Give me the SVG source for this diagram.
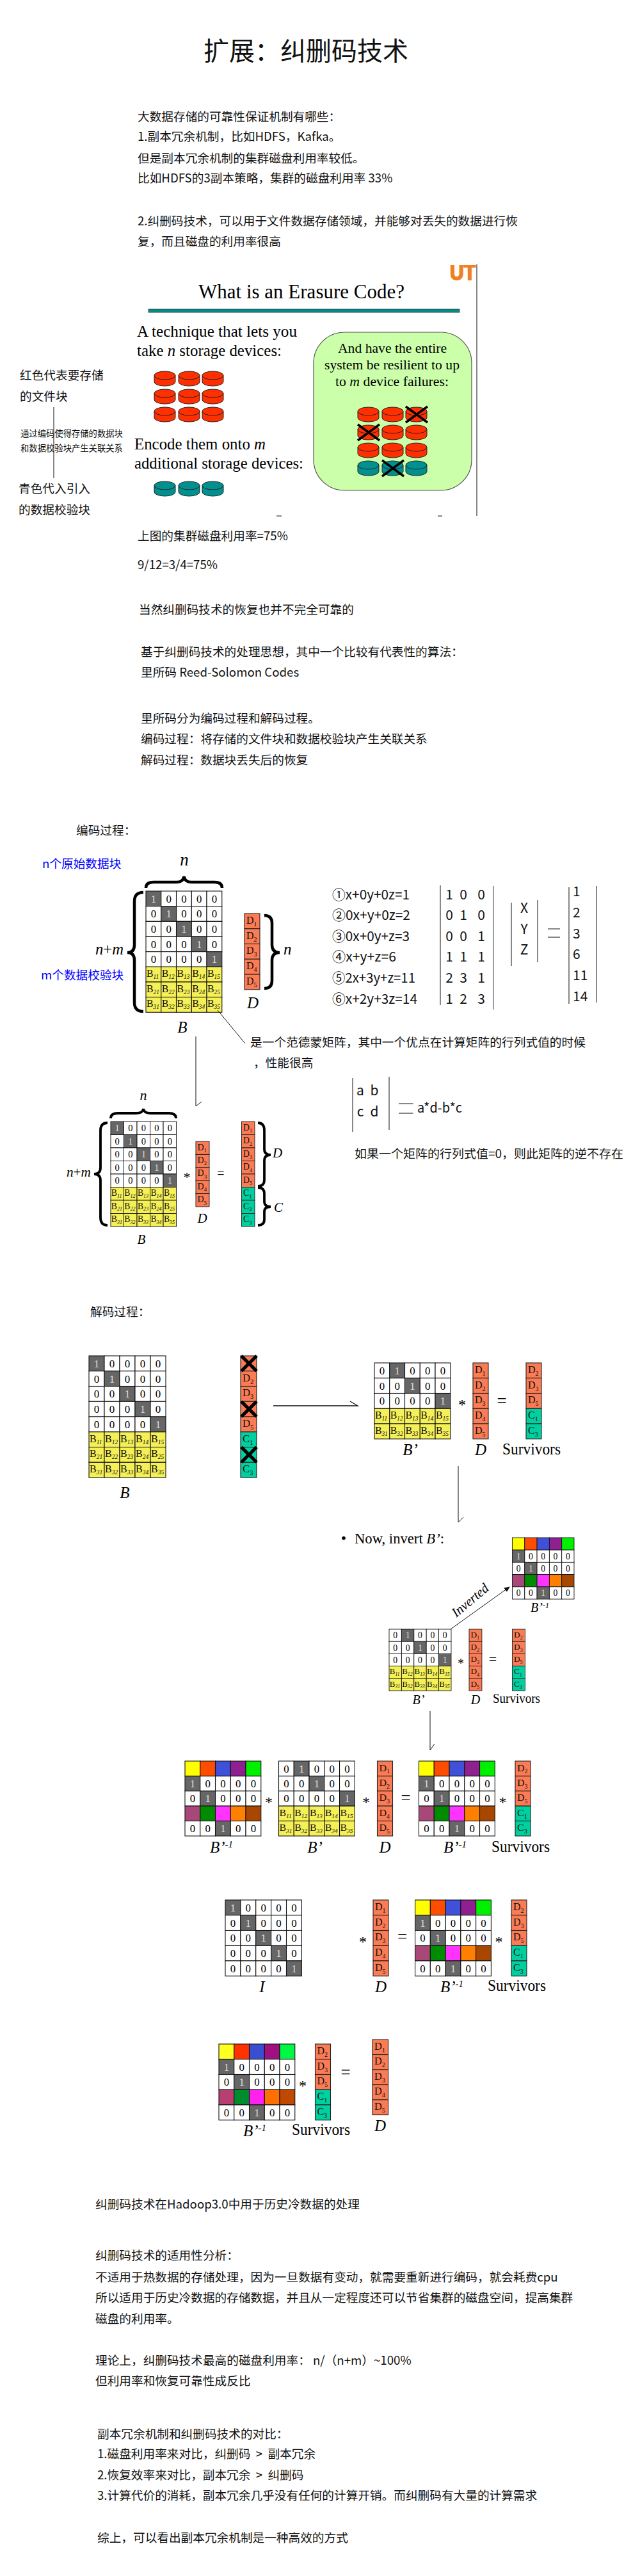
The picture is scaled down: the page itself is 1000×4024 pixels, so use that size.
<svg xmlns="http://www.w3.org/2000/svg" width="1000" height="4024" viewBox="0 0 1000 4024">
<style>
.t{font-family:"Noto Sans CJK SC","Liberation Sans",sans-serif;font-size:18.67px;fill:#111}
.a{fill:#00f}
.m{text-anchor:middle}
.s{font-family:"Liberation Serif",serif;fill:#000}
.i{font-style:italic}
.d{font-family:"Liberation Serif",serif;font-size:17px;text-anchor:middle;fill:#000}
.l{fill:#ddd}
.w{fill:#fff;stroke:#111;stroke-width:1.1}
.k{fill:#666;stroke:#111;stroke-width:1.1}
.y{fill:#f5f058;stroke:#111;stroke-width:1.1}
.o{fill:#fb7b55;stroke:#222;stroke-width:1.1}
.g{fill:#00cfa0;stroke:#222;stroke-width:1.1}
.bt{font-family:"Liberation Serif",serif;font-size:16px;fill:#111}
.sb{font-size:9.5px;font-style:italic}
.sn{font-size:10px}
.br{fill:none;stroke:#000;stroke-width:4.5}
.bs{fill:none;stroke:#000;stroke-width:3.8}
.ln{stroke:#111;stroke-width:1;fill:none}
.xx{stroke:#000;fill:none}
.r{stroke:#111;stroke-width:1}
</style>
<defs>
<marker id="ah" markerWidth="9" markerHeight="8" refX="8" refY="4" orient="auto" markerUnits="userSpaceOnUse"><path d="M0,0 L9,4 L0,8 Z" fill="#111"/></marker>
<clipPath id="lc"><rect x="702" y="414" width="43" height="24"/></clipPath>
<g id="cr"><path d="M0,6.5 V16.5 A16.5,6.5 0 0 0 33,16.5 V6.5 Z" fill="#ff2f00" stroke="#222"/><ellipse cx="16.5" cy="6.5" rx="16.5" ry="6.5" fill="#ff2f00" stroke="#222"/></g>
<g id="ct"><path d="M0,6.5 V16.5 A16.5,6.5 0 0 0 33,16.5 V6.5 Z" fill="#009090" stroke="#222"/><ellipse cx="16.5" cy="6.5" rx="16.5" ry="6.5" fill="#009090" stroke="#222"/></g>
<path id="xc" class="xx" stroke-width="3.5" d="M0,0 L34,25 M34,0 L0,25"/>
<path id="xd" class="xx" stroke-width="5" d="M1,0 L24,24 M24,0 L1,24"/>
<g id="c0"><rect class="w" width="24" height="24"/><text class="d" x="12" y="18">0</text></g>
<g id="c1"><rect class="k" width="24" height="24"/><text class="d l" x="12" y="18">1</text></g>
<g id="r1"><use href="#c1"/><use href="#c0" x="24"/><use href="#c0" x="48"/><use href="#c0" x="72"/><use href="#c0" x="96"/></g>
<g id="r2"><use href="#c0"/><use href="#c1" x="24"/><use href="#c0" x="48"/><use href="#c0" x="72"/><use href="#c0" x="96"/></g>
<g id="r3"><use href="#c0"/><use href="#c0" x="24"/><use href="#c1" x="48"/><use href="#c0" x="72"/><use href="#c0" x="96"/></g>
<g id="r4"><use href="#c0"/><use href="#c0" x="24"/><use href="#c0" x="48"/><use href="#c1" x="72"/><use href="#c0" x="96"/></g>
<g id="r5"><use href="#c0"/><use href="#c0" x="24"/><use href="#c0" x="48"/><use href="#c0" x="72"/><use href="#c1" x="96"/></g>
<rect id="by" class="y" width="24" height="24"/>
<g id="b1"><use href="#by"/><use href="#by" x="24"/><use href="#by" x="48"/><use href="#by" x="72"/><use href="#by" x="96"/>
<text class="bt" x="1" y="16">B<tspan class="sb" dy="3">11</tspan></text><text class="bt" x="25" y="16">B<tspan class="sb" dy="3">12</tspan></text><text class="bt" x="49" y="16">B<tspan class="sb" dy="3">13</tspan></text><text class="bt" x="73" y="16">B<tspan class="sb" dy="3">14</tspan></text><text class="bt" x="97" y="16">B<tspan class="sb" dy="3">15</tspan></text></g>
<g id="b2"><use href="#by"/><use href="#by" x="24"/><use href="#by" x="48"/><use href="#by" x="72"/><use href="#by" x="96"/>
<text class="bt" x="1" y="16">B<tspan class="sb" dy="3">21</tspan></text><text class="bt" x="25" y="16">B<tspan class="sb" dy="3">22</tspan></text><text class="bt" x="49" y="16">B<tspan class="sb" dy="3">23</tspan></text><text class="bt" x="73" y="16">B<tspan class="sb" dy="3">24</tspan></text><text class="bt" x="97" y="16">B<tspan class="sb" dy="3">25</tspan></text></g>
<g id="b3"><use href="#by"/><use href="#by" x="24"/><use href="#by" x="48"/><use href="#by" x="72"/><use href="#by" x="96"/>
<text class="bt" x="1" y="16">B<tspan class="sb" dy="3">31</tspan></text><text class="bt" x="25" y="16">B<tspan class="sb" dy="3">32</tspan></text><text class="bt" x="49" y="16">B<tspan class="sb" dy="3">33</tspan></text><text class="bt" x="73" y="16">B<tspan class="sb" dy="3">34</tspan></text><text class="bt" x="97" y="16">B<tspan class="sb" dy="3">35</tspan></text></g>
<g id="ra" stroke="#111" stroke-width="1.1"><rect width="24" height="24" fill="#ffff00"/><rect x="24" width="24" height="24" fill="#ff4d00"/><rect x="48" width="24" height="24" fill="#4050d8"/><rect x="72" width="24" height="24" fill="#8e2090"/><rect x="96" width="24" height="24" fill="#00f000"/></g>
<g id="rb" stroke="#111" stroke-width="1.1"><rect width="24" height="24" fill="#a84878"/><rect x="24" width="24" height="24" fill="#008c00"/><rect x="48" width="24" height="24" fill="#ff33ff"/><rect x="72" width="24" height="24" fill="#ff8000"/><rect x="96" width="24" height="24" fill="#a84800"/></g>
<g id="rc" stroke="#111" stroke-width="1.1"><rect width="24" height="24" fill="#ffff22"/><rect x="24" width="24" height="24" fill="#ff3300"/><rect x="48" width="24" height="24" fill="#3a4fd0"/><rect x="72" width="24" height="24" fill="#a01080"/><rect x="96" width="24" height="24" fill="#00f844"/></g>
<g id="rd" stroke="#111" stroke-width="1.1"><rect width="24" height="24" fill="#b84070"/><rect x="24" width="24" height="24" fill="#008c2c"/><rect x="48" width="24" height="24" fill="#ff22ee"/><rect x="72" width="24" height="24" fill="#ff7000"/><rect x="96" width="24" height="24" fill="#c04800"/></g>
<rect id="ob" class="o" width="24" height="24"/>
<rect id="gb" class="g" width="24" height="24"/>
<g id="d1"><use href="#ob"/><text class="bt" x="3" y="16">D<tspan class="sn" dy="4">1</tspan></text></g>
<g id="d2"><use href="#ob"/><text class="bt" x="3" y="16">D<tspan class="sn" dy="4">2</tspan></text></g>
<g id="d3"><use href="#ob"/><text class="bt" x="3" y="16">D<tspan class="sn" dy="4">3</tspan></text></g>
<g id="d4"><use href="#ob"/><text class="bt" x="3" y="16">D<tspan class="sn" dy="4">4</tspan></text></g>
<g id="d5"><use href="#ob"/><text class="bt" x="3" y="16">D<tspan class="sn" dy="4">5</tspan></text></g>
<g id="e1"><use href="#gb"/><text class="bt" x="3" y="16">C<tspan class="sn" dy="4">1</tspan></text></g>
<g id="e2"><use href="#gb"/><text class="bt" x="3" y="16">C<tspan class="sn" dy="4">2</tspan></text></g>
<g id="e3"><use href="#gb"/><text class="bt" x="3" y="16">C<tspan class="sn" dy="4">3</tspan></text></g>
<g id="col5"><use href="#d1"/><use href="#d2" y="24"/><use href="#d3" y="48"/><use href="#d4" y="72"/><use href="#d5" y="96"/></g>
<g id="col8"><use href="#col5"/><use href="#e1" y="120"/><use href="#e2" y="144"/><use href="#e3" y="168"/></g>
<g id="surv"><use href="#d2"/><use href="#d3" y="24"/><use href="#d5" y="48"/><use href="#e1" y="72"/><use href="#e3" y="96"/></g>
<g id="mI"><use href="#r1"/><use href="#r2" y="24"/><use href="#r3" y="48"/><use href="#r4" y="72"/><use href="#r5" y="96"/></g>
<g id="mB"><use href="#mI"/><use href="#b1" y="120"/><use href="#b2" y="144"/><use href="#b3" y="168"/></g>
<g id="mP"><use href="#r2"/><use href="#r3" y="24"/><use href="#r5" y="48"/><use href="#b1" y="72"/><use href="#b3" y="96"/></g>
<g id="mV"><use href="#ra"/><use href="#r1" y="24"/><use href="#r2" y="48"/><use href="#rb" y="72"/><use href="#r3" y="96"/></g>
<g id="mW"><use href="#rc"/><use href="#r1" y="24"/><use href="#r2" y="48"/><use href="#rd" y="72"/><use href="#r3" y="96"/></g>
</defs>
<rect width="1000" height="4024" fill="#fff"/>

<g id="title"><text class="t" x="318" y="94" style="font-size:40px">扩展：纠删码技术</text></g>

<g id="intro">
<text class="t" x="215" y="189">大数据存储的可靠性保证机制有哪些：</text>
<text class="t" x="215" y="220">1.副本冗余机制，比如HDFS，Kafka。</text>
<text class="t" x="215" y="254">但是副本冗余机制的集群磁盘利用率较低。</text>
<text class="t" x="215" y="285">比如HDFS的3副本策略，集群的磁盘利用率 33%</text>
<text class="t" x="215" y="352">2.纠删码技术，可以用于文件数据存储领域，并能够对丢失的数据进行恢</text>
<text class="t" x="215" y="384">复，而且磁盘的利用率很高</text>
</g>

<g id="slide-erasure">
<line class="r" x1="745" y1="413" x2="745" y2="806"/>
<text x="703" y="437" clip-path="url(#lc)" font-family="Liberation Sans,sans-serif" font-weight="bold" font-size="35" fill="#f08020" stroke="#f08020" stroke-width="2" textLength="40" lengthAdjust="spacingAndGlyphs">UT</text>
<text class="s" x="310" y="466" font-size="32" textLength="322" lengthAdjust="spacingAndGlyphs">What is an Erasure Code?</text>
<rect x="232" y="483" width="486" height="5" fill="#008f8f" stroke="#333" stroke-width=".8"/>
<text class="s" x="214" y="526" font-size="25" textLength="250" lengthAdjust="spacingAndGlyphs">A technique that lets you</text>
<text class="s" x="214" y="556" font-size="25" textLength="226" lengthAdjust="spacingAndGlyphs">take <tspan class="i">n</tspan> storage devices:</text>
<text class="s" x="210" y="702" font-size="25" textLength="205" lengthAdjust="spacingAndGlyphs">Encode them onto <tspan class="i">m</tspan></text>
<text class="s" x="210" y="732" font-size="25" textLength="264" lengthAdjust="spacingAndGlyphs">additional storage devices:</text>
<use href="#cr" x="241" y="580"/><use href="#cr" x="279" y="580"/><use href="#cr" x="316" y="580"/>
<use href="#cr" x="241" y="608"/><use href="#cr" x="279" y="608"/><use href="#cr" x="316" y="608"/>
<use href="#cr" x="241" y="636"/><use href="#cr" x="279" y="636"/><use href="#cr" x="316" y="636"/>
<use href="#ct" x="241" y="752"/><use href="#ct" x="279" y="752"/><use href="#ct" x="316" y="752"/>
<rect x="490" y="519" width="247" height="247" rx="48" ry="48" fill="#ccffaa" stroke="#555" stroke-width="1.2"/>
<text class="s" x="528" y="551" font-size="21" textLength="170" lengthAdjust="spacingAndGlyphs">And have the entire</text>
<text class="s" x="507" y="577" font-size="21" textLength="211" lengthAdjust="spacingAndGlyphs">system be resilient to up</text>
<text class="s" x="524" y="603" font-size="21" textLength="177" lengthAdjust="spacingAndGlyphs">to <tspan class="i">m</tspan> device failures:</text>
<use href="#cr" x="559" y="636"/><use href="#cr" x="597" y="636"/><use href="#cr" x="634" y="636"/>
<use href="#cr" x="559" y="664"/><use href="#cr" x="597" y="664"/><use href="#cr" x="634" y="664"/>
<use href="#cr" x="559" y="692"/><use href="#cr" x="597" y="692"/><use href="#cr" x="634" y="692"/>
<use href="#ct" x="559" y="720"/><use href="#ct" x="597" y="720"/><use href="#ct" x="634" y="720"/>
<use href="#xc" x="634" y="635"/><use href="#xc" x="559" y="663"/><use href="#xc" x="597" y="719"/>
<line class="r" x1="432" y1="806" x2="440" y2="806"/><line class="r" x1="684" y1="806" x2="691" y2="806"/>
</g>

<g id="side-notes">
<text class="t" x="31" y="593">红色代表要存储</text>
<text class="t" x="31" y="626">的文件块</text>
<line class="r" x1="84" y1="636" x2="84" y2="747"/>
<text class="t" x="32" y="682" style="font-size:13.33px">通过编码使得存储的数据块</text>
<text class="t" x="32" y="705" style="font-size:13.33px">和数据校验块产生关联关系</text>
<text class="t" x="29" y="770">青色代入引入</text>
<text class="t" x="29" y="803">的数据校验块</text>
</g>

<g id="notes">
<text class="t" x="215" y="844">上图的集群磁盘利用率=75%</text>
<text class="t" x="215" y="889">9/12=3/4=75%</text>
<text class="t" x="217" y="959">当然纠删码技术的恢复也并不完全可靠的</text>
<text class="t" x="220" y="1025">基于纠删码技术的处理思想，其中一个比较有代表性的算法：</text>
<text class="t" x="220" y="1057">里所码 Reed-Solomon Codes</text>
<text class="t" x="220" y="1129">里所码分为编码过程和解码过程。</text>
<text class="t" x="220" y="1161">编码过程：将存储的文件块和数据校验块产生关联关系</text>
<text class="t" x="220" y="1194">解码过程：数据块丢失后的恢复</text>
<text class="t" x="119" y="1304">编码过程：</text>
<text class="t a" x="66" y="1356">n个原始数据块</text>
<text class="t a" x="64" y="1530">m个数据校验块</text>
</g>

<g id="encode-1">
<use href="#mB" transform="translate(228,1392) scale(.99,.986)"/>
<use href="#col5" transform="translate(382,1427) scale(1,.99)"/>
<path class="br" d="M228,1387 Q228,1378 240,1378 L276,1378 Q286,1378 287.500,1369 Q289,1378 299,1378 L335,1378 Q347,1378 347,1387"/>
<path class="br" d="M224,1394 Q210,1394 210,1408 L210,1476 Q210,1488 199,1488 Q210,1488 210,1500 L210,1566 Q210,1580 224,1580"/>
<path class="br" d="M413,1430 Q425,1430 425,1442 L425,1476 Q425,1488 437,1488 Q425,1488 425,1500 L425,1532 Q425,1544 413,1544"/>
<text class="s i m" x="288" y="1352" font-size="27">n</text>
<text class="s i" x="149" y="1491" font-size="25" textLength="44" lengthAdjust="spacingAndGlyphs">n<tspan font-style="normal">+</tspan>m</text>
<text class="s i" x="443" y="1491" font-size="25">n</text>
<text class="s i m" x="395" y="1575" font-size="25">D</text>
<text class="s i m" x="285" y="1613" font-size="25">B</text>
</g>

<g id="equations" class="t">
<text class="t" x="519" y="1405" style="font-size:21px" textLength="121" lengthAdjust="spacingAndGlyphs">①x+0y+0z=1</text>
<text class="t" x="519" y="1437" style="font-size:21px" textLength="122" lengthAdjust="spacingAndGlyphs">②0x+y+0z=2</text>
<text class="t" x="519" y="1470" style="font-size:21px" textLength="121" lengthAdjust="spacingAndGlyphs">③0x+0y+z=3</text>
<text class="t" x="519" y="1502" style="font-size:21px" textLength="100" lengthAdjust="spacingAndGlyphs">④x+y+z=6</text>
<text class="t" x="519" y="1535" style="font-size:21px" textLength="130" lengthAdjust="spacingAndGlyphs">⑤2x+3y+z=11</text>
<text class="t" x="519" y="1568" style="font-size:21px" textLength="133" lengthAdjust="spacingAndGlyphs">⑥x+2y+3z=14</text>
<line class="r" x1="688" y1="1383" x2="688" y2="1570"/><line class="r" x1="770.500" y1="1384" x2="770.500" y2="1577"/>
<g class="t m" style="font-size:21px">
<text x="702" y="1405">1</text><text x="724" y="1405">0</text><text x="752" y="1405">0</text>
<text x="702" y="1437">0</text><text x="724" y="1437">1</text><text x="752" y="1437">0</text>
<text x="702" y="1470">0</text><text x="724" y="1470">0</text><text x="752" y="1470">1</text>
<text x="702" y="1502">1</text><text x="724" y="1502">1</text><text x="752" y="1502">1</text>
<text x="702" y="1535">2</text><text x="724" y="1535">3</text><text x="752" y="1535">1</text>
<text x="702" y="1568">1</text><text x="724" y="1568">2</text><text x="752" y="1568">3</text>
<text x="819" y="1426">X</text><text x="819" y="1459">Y</text><text x="819" y="1491">Z</text>
</g>
<line class="r" x1="799" y1="1410" x2="799" y2="1509"/><line class="r" x1="840" y1="1406" x2="840" y2="1503"/>
<line class="r" x1="856" y1="1451" x2="875" y2="1451"/><line class="r" x1="856" y1="1464" x2="875" y2="1464"/>
<line class="r" x1="889" y1="1386" x2="889" y2="1568"/><line class="r" x1="932" y1="1384" x2="932" y2="1566"/>
<g class="t" style="font-size:21px">
<text x="895" y="1400">1</text><text x="895" y="1433">2</text><text x="895" y="1466">3</text><text x="895" y="1498">6</text><text x="895" y="1531">11</text><text x="895" y="1564">14</text>
</g>
</g>

<g id="note-vandermonde">
<text class="t" x="391" y="1635" textLength="524" lengthAdjust="spacingAndGlyphs">是一个范德蒙矩阵，其中一个优点在计算矩阵的行列式值的时候</text>
<text class="t" x="396" y="1667">，性能很高</text>
</g>

<g id="determinant">
<line class="r" x1="551" y1="1684" x2="551" y2="1768"/><line class="r" x1="608" y1="1682" x2="608" y2="1765"/>
<g class="t m" style="font-size:21px"><text x="563" y="1711">a</text><text x="585" y="1711">b</text><text x="563" y="1744">c</text><text x="585" y="1744">d</text></g>
<line class="r" x1="623" y1="1724" x2="645.500" y2="1724"/><line class="r" x1="623" y1="1739" x2="645.500" y2="1739"/>
<text class="t" x="652" y="1738" style="font-size:21px" textLength="70" lengthAdjust="spacingAndGlyphs">a*d-b*c</text>
<text class="t" x="554" y="1809" textLength="420" lengthAdjust="spacingAndGlyphs">如果一个矩阵的行列式值=0，则此矩阵的逆不存在</text>
</g>

<g id="encode-2">
<use href="#mB" transform="translate(173,1752) scale(.855,.854)"/>
<use href="#col5" transform="translate(306,1783) scale(.875,.85)"/>
<use href="#col8" transform="translate(377.500,1752) scale(.854,.854)"/>
<path class="bs" d="M173,1747 Q173,1739 184,1739 L213,1739 Q223,1739 224,1732 Q225,1739 235,1739 L264,1739 Q275,1739 275,1747"/>
<path class="bs" d="M168,1754 Q157,1754 157,1766 L157,1824 Q157,1834 147,1834 Q157,1834 157,1844 L157,1902 Q157,1914 168,1914"/>
<path class="bs" d="M403,1754 Q413,1754 413,1766 L413,1795 Q413,1804 423,1804 Q413,1804 413,1813 L413,1843 Q413,1853 403,1853"/>
<path class="bs" d="M403,1855 Q413,1855 413,1865 L413,1877 Q413,1885 423,1885 Q413,1885 413,1893 L413,1905 Q413,1914 403,1914"/>
<text class="s i m" x="224" y="1718" font-size="22">n</text>
<text class="s i" x="104" y="1838" font-size="21" textLength="38" lengthAdjust="spacingAndGlyphs">n<tspan font-style="normal">+</tspan>m</text>
<text class="s m" x="292" y="1846" font-size="22">*</text>
<text class="s m" x="345" y="1840" font-size="20">=</text>
<text class="s i m" x="316" y="1910" font-size="21">D</text>
<text class="s i m" x="221" y="1943" font-size="21">B</text>
<text class="s i" x="426" y="1808" font-size="21">D</text>
<text class="s i" x="428" y="1893" font-size="21">C</text>
</g>

<g id="decode-label"><text class="t" x="141" y="2056">解码过程：</text></g>

<g id="decode-1">
<use href="#mB" transform="translate(139,2118) scale(1,.99)"/>
<g transform="translate(376,2118) scale(1.04,.99)">
<use href="#ob"/><use href="#d2" y="24"/><use href="#d3" y="48"/><use href="#ob" y="72"/><use href="#d5" y="96"/><use href="#e1" y="120"/><use href="#gb" y="144"/><use href="#e3" y="168"/>
<use href="#xd"/><use href="#xd" y="72"/><use href="#xd" y="144"/>
</g>
<text class="s i m" x="195" y="2340" font-size="25">B</text>
</g>

<g id="decode-2">
<use href="#mP" transform="translate(585,2129) scale(.99,.99)"/>
<use href="#col5" transform="translate(739,2129) scale(1,.99)"/>
<use href="#surv" transform="translate(822,2129) scale(1,.99)"/>
<text class="s m" x="722" y="2202" font-size="24">*</text>
<text class="s m" x="784" y="2197" font-size="27">=</text>
<text class="s i m" x="641" y="2273" font-size="25">B’</text>
<text class="s i m" x="751" y="2273" font-size="25">D</text>
<text class="s" x="785" y="2272" font-size="25" textLength="91" lengthAdjust="spacingAndGlyphs">Survivors</text>
</g>

<g id="invert-label">
<text class="s m" x="537" y="2411" font-size="24">•</text>
<text class="s" x="554" y="2411" font-size="24" textLength="140" lengthAdjust="spacingAndGlyphs">Now, invert <tspan class="i">B’</tspan>:</text>
</g>

<g id="inverse-small">
<use href="#mV" transform="translate(800.500,2402) scale(.804,.8)"/>
<text class="s i" x="829" y="2518" font-size="20">B’<tspan font-size="12" dy="-6">-1</tspan></text>
</g>
<text class="s i" font-size="21" transform="translate(713,2527) rotate(-40)" textLength="68" lengthAdjust="spacingAndGlyphs">Inverted</text>

<g id="decode-3">
<use href="#mP" transform="translate(608,2545) scale(.808,.8)"/>
<use href="#col5" transform="translate(733,2545) scale(.83,.8)"/>
<use href="#surv" transform="translate(800.500,2545) scale(.83,.8)"/>
<text class="s m" x="720" y="2605" font-size="20">*</text>
<text class="s m" x="770" y="2599" font-size="22">=</text>
<text class="s i m" x="654" y="2662" font-size="20">B’</text>
<text class="s i m" x="743" y="2662" font-size="20">D</text>
<text class="s" x="770" y="2660" font-size="20" textLength="74" lengthAdjust="spacingAndGlyphs">Survivors</text>
</g>

<g id="decode-4">
<use href="#mV" transform="translate(289,2751) scale(.99,.975)"/>
<use href="#mP" transform="translate(435.500,2751) scale(.99,.975)"/>
<use href="#col5" transform="translate(589.500,2751) scale(1,.975)"/>
<use href="#mV" transform="translate(654.500,2751) scale(.99,.975)"/>
<use href="#surv" transform="translate(805,2751) scale(1,.975)"/>
<text class="s m" x="420" y="2823" font-size="24">*</text>
<text class="s m" x="572" y="2823" font-size="24">*</text>
<text class="s m" x="634" y="2817" font-size="27">=</text>
<text class="s m" x="785.500" y="2823" font-size="24">*</text>
<text class="s i" x="328" y="2894" font-size="25">B’<tspan font-size="15" dy="-8">-1</tspan></text>
<text class="s i m" x="492" y="2894" font-size="25">B’</text>
<text class="s i m" x="601.500" y="2894" font-size="25">D</text>
<text class="s i" x="693" y="2894" font-size="25">B’<tspan font-size="15" dy="-8">-1</tspan></text>
<text class="s" x="768" y="2893" font-size="25" textLength="91" lengthAdjust="spacingAndGlyphs">Survivors</text>
</g>

<g id="decode-5">
<use href="#mI" transform="translate(352,2968) scale(.995,.99)"/>
<use href="#col5" transform="translate(583,2968) scale(1,.99)"/>
<use href="#mV" transform="translate(648.600,2968) scale(.99,.99)"/>
<use href="#surv" transform="translate(799,2968) scale(1,.99)"/>
<text class="s m" x="567" y="3041" font-size="24">*</text>
<text class="s m" x="628.500" y="3034" font-size="27">=</text>
<text class="s m" x="779.600" y="3041" font-size="24">*</text>
<text class="s i m" x="409.500" y="3112" font-size="25">I</text>
<text class="s i m" x="595" y="3112" font-size="25">D</text>
<text class="s i" x="688" y="3112" font-size="25">B’<tspan font-size="15" dy="-8">-1</tspan></text>
<text class="s" x="762" y="3110" font-size="25" textLength="91" lengthAdjust="spacingAndGlyphs">Survivors</text>
</g>

<g id="decode-6">
<use href="#mW" transform="translate(342,3193) scale(.99,.99)"/>
<use href="#surv" transform="translate(492.500,3193) scale(1,.99)"/>
<use href="#col5" transform="translate(582,3186) scale(1.02,.98)"/>
<text class="s m" x="473" y="3266" font-size="24">*</text>
<text class="s m" x="540" y="3246" font-size="27">=</text>
<text class="s i" x="380" y="3337" font-size="25">B’<tspan font-size="15" dy="-8">-1</tspan></text>
<text class="s" x="456" y="3335" font-size="25" textLength="91" lengthAdjust="spacingAndGlyphs">Survivors</text>
<text class="s i m" x="594" y="3329" font-size="25">D</text>
</g>

<g id="summary">
<text class="t" x="149" y="3450">纠删码技术在Hadoop3.0中用于历史冷数据的处理</text>
<text class="t" x="149" y="3530">纠删码技术的适用性分析：</text>
<text class="t" x="149" y="3564">不适用于热数据的存储处理，因为一旦数据有变动，就需要重新进行编码，就会耗费cpu</text>
<text class="t" x="149" y="3596">所以适用于历史冷数据的存储数据，并且从一定程度还可以节省集群的磁盘空间，提高集群</text>
<text class="t" x="149" y="3629">磁盘的利用率。</text>
<text class="t" x="149" y="3694">理论上，纠删码技术最高的磁盘利用率： n/（n+m）~100%</text>
<text class="t" x="149" y="3726">但利用率和恢复可靠性成反比</text>
<text class="t" x="152" y="3809">副本冗余机制和纠删码技术的对比：</text>
<text class="t" x="152" y="3840" xml:space="preserve">1.磁盘利用率来对比，纠删码  &gt;  副本冗余</text>
<text class="t" x="152" y="3873" xml:space="preserve">2.恢复效率来对比，副本冗余  &gt;  纠删码</text>
<text class="t" x="152" y="3905">3.计算代价的消耗，副本冗余几乎没有任何的计算开销。而纠删码有大量的计算需求</text>
<text class="t" x="152" y="3971">综上，可以看出副本冗余机制是一种高效的方式</text>
</g>

<g id="connectors">
<line class="ln" x1="340" y1="1578" x2="383" y2="1630"/>
<path class="ln" d="M306,1619 L306,1728 L315,1721"/>
<path class="ln" style="stroke-width:1.3" d="M427,2196 L559,2196 L547,2189"/>
<path class="ln" d="M716,2290 L716,2378 L724,2370"/>
<line class="ln" x1="704" y1="2545" x2="796" y2="2479" marker-end="url(#ah)"/>
<path class="ln" d="M672,2673 L672,2734 L679,2724"/>
</g>
</svg>
